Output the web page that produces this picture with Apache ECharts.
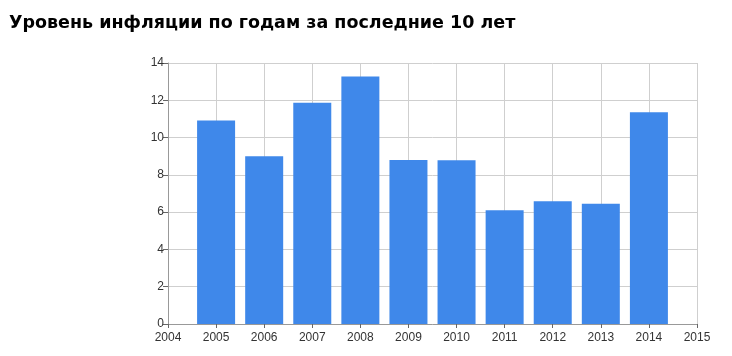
<!DOCTYPE html>
<html><head><meta charset="utf-8">
<script src="https://cdn.jsdelivr.net/npm/echarts@6/dist/echarts.min.js"></script>
<style>html,body{margin:0;padding:0;background:#fff}#c{width:732px;height:356px}</style>
</head><body><div id="c"></div>
<script>
const title = 'Уровень инфляции по годам за последние 10 лет';
const years = [2005, 2006, 2007, 2008, 2009, 2010, 2011, 2012, 2013, 2014];
const inflation = [10.91, 9.00, 11.87, 13.28, 8.80, 8.78, 6.10, 6.58, 6.45, 11.36];
const xMin = 2004, xMax = 2015;
const yMin = 0, yMax = 14, yStep = 2;

const chart = echarts.init(document.getElementById('c'));
chart.setOption({
  animation: false,
  title: {
    text: title, left: 4, top: 9,
    textStyle: {fontFamily: 'DejaVu Sans', fontWeight: 'bold', fontSize: 17.5, color: '#000'}
  },
  grid: {left: 168, right: 35, top: 63, bottom: 32},
  xAxis: {
    type: 'value', min: xMin, max: xMax, interval: 1,
    axisLine: {show: true, lineStyle: {color: '#999'}},
    axisTick: {show: true, length: 4, lineStyle: {color: '#666'}},
    axisLabel: {color: '#333', fontFamily: 'Liberation Sans', fontSize: 12, margin: 8,
      formatter: v => String(v)},
    splitLine: {show: true, lineStyle: {color: '#cfcfcf'}}
  },
  yAxis: {
    type: 'value', min: yMin, max: yMax, interval: yStep,
    axisLine: {show: true, lineStyle: {color: '#999'}},
    axisTick: {show: true, length: 5, lineStyle: {color: '#666'}},
    axisLabel: {color: '#333', fontFamily: 'Liberation Sans', fontSize: 12, margin: 4},
    splitLine: {show: true, lineStyle: {color: '#cfcfcf'}}
  },
  series: [{
    type: 'bar', barWidth: 38,
    itemStyle: {color: '#3f88ea'},
    data: years.map((y, i) => [y, inflation[i]])
  }]
});
</script></body></html>
